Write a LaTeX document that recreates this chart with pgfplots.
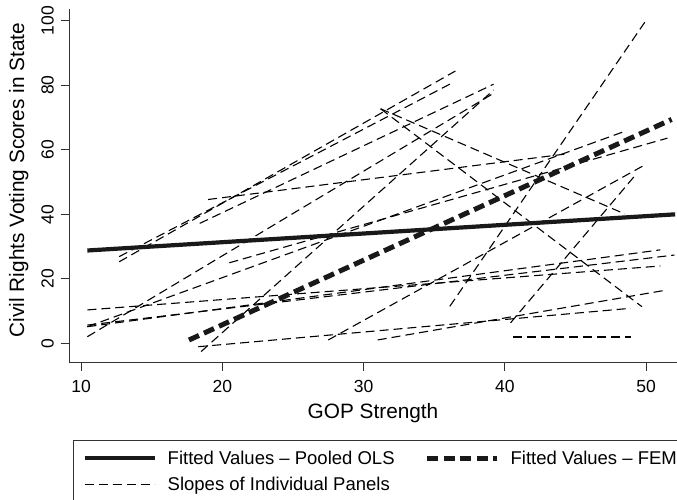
\documentclass[border=0pt]{standalone}
\usepackage{pgfplots}
\pgfplotsset{compat=1.18}
\usepackage{fontspec}
\setmainfont{Liberation Sans}
\newcommand{\tickfont}{\fontsize{17.5}{20}\selectfont}
\newcommand{\labfont}{\fontsize{20.8}{24}\selectfont}
\newcommand{\legfont}{\fontsize{18.5}{22}\selectfont}
\pgfplotsset{
  panel/.style={black, line width=1.1pt, dash pattern=on 9pt off 5pt},
  ols/.style={black!90, line width=4.2pt},
  fem/.style={black!90, line width=5pt, dash pattern=on 11pt off 5.5pt},
}
\begin{document}
\begin{tikzpicture}
\path[use as bounding box] (0pt,0pt) rectangle (677pt,500pt);
\begin{axis}[
  at={(69pt,137pt)}, anchor=south west,
  scale only axis, width=608pt, height=354pt,
  xmin=9.15, xmax=52.18, ymin=-6.04, ymax=103.6,
  axis x line*=bottom, axis y line*=left,
  axis line style={-, line width=1pt, black!80},
  xtick={10,20,30,40,50}, ytick={0,20,40,60,80,100},
  tick align=outside, major tick length=8pt,
  tick style={line width=1pt, black!80},
  /pgf/number format/assume math mode=true,
  ticklabel style={font=\tickfont},
  xticklabel style={anchor=center, yshift=-15pt},
  yticklabel style={anchor=center, rotate=90, yshift=13.5pt},
  xlabel={GOP Strength}, ylabel={Civil Rights Voting Scores in State},
  label style={font=\labfont},
  xlabel style={at={(axis description cs:0.5,-0.1412)}, anchor=center},
  ylabel style={at={(axis description cs:-0.0827,0.517)}, anchor=center},
  legend columns=2,
  legend cell align=left,
  legend style={at={(axis description cs:0.00658,-0.2175)}, anchor=north west,
     draw=black!80, line width=1pt, fill=white,
     inner xsep=9pt, inner ysep=11pt,
     font=\legfont,
     column sep=11pt, row sep=12.2pt,
     nodes={inner sep=0pt, text height=13.5pt, text depth=0.3pt}},
  legend image code/.code={\draw[#1] (0pt,0pt) -- (70pt,0pt);},
]
% individual panel slopes
\addplot[panel, forget plot] coordinates {(12.7,25.3) (36.5,84.4)};
\addplot[panel, forget plot] coordinates {(12.7,26.9) (36.4,81.0)};
\addplot[panel, forget plot] coordinates {(18.4,37.2) (39.2,80.3)};
\addplot[panel, forget plot] coordinates {(18.5,-2.5) (39.2,78.5)};
\addplot[panel, forget plot] coordinates {(10.45,2.1) (39.2,77.5)};
\addplot[panel, forget plot] coordinates {(19.0,44.6) (44.5,58.8)};
\addplot[panel, forget plot] coordinates {(10.45,5.2) (48.6,65.9)};
\addplot[panel, forget plot] coordinates {(20.5,25.0) (51.5,63.6)};
\addplot[panel, forget plot] coordinates {(31.2,72.7) (49.7,11.4)};
\addplot[panel, forget plot] coordinates {(31.2,72.7) (48.5,40.1)};
\addplot[panel, forget plot] coordinates {(36.1,11.5) (49.9,99.5)};
\addplot[panel, forget plot] coordinates {(27.5,1.1) (49.9,55.3)};
\addplot[panel, forget plot] coordinates {(40.4,6.4) (49.3,52.5)};
\addplot[panel, forget plot] coordinates {(10.45,10.4) (51.0,24.0)};
\addplot[panel, forget plot] coordinates {(10.45,5.2) (51.0,29.0)};
\addplot[panel, forget plot] coordinates {(10.45,5.7) (52.0,27.4)};
\addplot[panel, forget plot] coordinates {(31.0,1.1) (51.5,16.6)};
\addplot[panel, forget plot] coordinates {(18.3,-1.0) (48.9,10.9)};
\addplot[panel, forget plot] coordinates {(40.6,2.0) (48.9,2.0)};
% fitted values
\addplot[ols, forget plot] coordinates {(10.45,28.8) (52.05,40.0)};
\addplot[fem, forget plot] coordinates {(17.64,1.08) (51.8,69.4)};
% legend
\addlegendimage{ols}
\addlegendentry{Fitted Values – Pooled OLS\hspace{19pt}\null}
\addlegendimage{fem}
\addlegendentry{Fitted Values – FEM}
\addlegendimage{panel}
\addlegendentry{Slopes of Individual Panels}
\end{axis}
\end{tikzpicture}
\end{document}
